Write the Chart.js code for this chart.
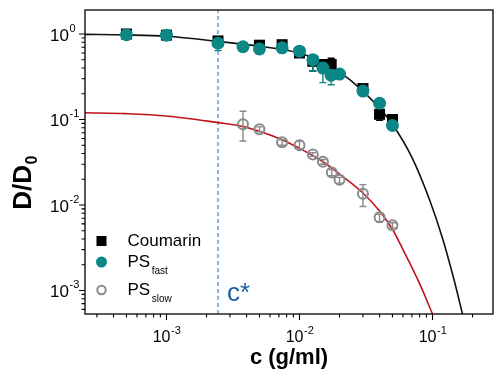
<!DOCTYPE html>
<html>
<head>
<meta charset="utf-8">
<script src="https://cdn.jsdelivr.net/npm/chart.js@4/dist/chart.umd.min.js"></script>
<style>
html, body { margin: 0; padding: 0; background: #fff; }
</style>
</head>
<body>
<canvas id="chart" width="494" height="372"></canvas>
<script>
// Axis limits (log scales)
const xMin = 2.44e-4, xMax = 0.285;
const yMin = 5.3e-4, yMax = 1.91;
const cStar = 2.44e-3;

// Tick decades (labels drawn as 10^exp)
const xTickExps = [-3, -2, -1];
const yTickExps = [0, -1, -2, -3];

// Coumarin (black squares)
const coumarinC  = [5e-4, 1e-3, 2.44e-3, 5e-3, 7.4e-3, 0.01, 0.0126, 0.015, 0.0173, 0.03, 0.04, 0.05];
const coumarinD  = [1.0, 0.97, 0.83, 0.74, 0.75, 0.6, 0.48, 0.44, 0.44, 0.23, 0.115, 0.1];
const coumarinLo = [0.93, 0.91, 0.72, 0.68, 0.69, 0.55, 0.37, 0.40, 0.37, 0.21, 0.098, 0.088];
const coumarinHi = [1.07, 1.03, 0.90, 0.80, 0.81, 0.66, 0.53, 0.49, 0.52, 0.25, 0.13, 0.112];

// PS fast (teal circles)
const fastC  = [5e-4, 1e-3, 2.44e-3, 3.76e-3, 5e-3, 7.4e-3, 0.01, 0.0126, 0.015, 0.0173, 0.02, 0.03, 0.04, 0.05];
const fastD  = [0.98, 0.97, 0.78, 0.71, 0.67, 0.69, 0.63, 0.5, 0.4, 0.33, 0.34, 0.215, 0.155, 0.085];
const fastLo = [0.93, 0.92, 0.64, 0.67, 0.63, 0.65, 0.59, 0.37, 0.27, 0.255, 0.31, 0.2, 0.14, 0.078];
const fastHi = [1.03, 1.02, 0.88, 0.75, 0.71, 0.73, 0.67, 0.56, 0.46, 0.38, 0.37, 0.23, 0.17, 0.092];

// PS slow (open grey circles)
const slowC  = [3.76e-3, 5e-3, 7.4e-3, 0.01, 0.0126, 0.015, 0.0175, 0.02, 0.03, 0.04, 0.05];
const slowD  = [0.088, 0.077, 0.054, 0.05, 0.039, 0.032, 0.024, 0.0197, 0.0135, 0.0072, 0.0058];
const slowLo = [0.056, 0.072, 0.05, 0.045, 0.037, 0.03, 0.022, 0.018, 0.0096, 0.0063, 0.0054];
const slowHi = [0.125, 0.082, 0.058, 0.056, 0.041, 0.034, 0.026, 0.021, 0.0173, 0.0078, 0.0062];

// Fit curves
const fitFastC = [2.44e-4, 5e-4, 1e-3, 2.44e-3, 5e-3, 0.01, 0.015, 0.02, 0.03, 0.04, 0.05, 0.07, 0.095, 0.12, 0.145, 0.168];
const fitFastD = [0.99, 0.975, 0.94, 0.82, 0.72, 0.6, 0.47, 0.36, 0.215, 0.135, 0.088, 0.036, 0.0115, 0.0039, 0.00134, 0.00053];
const fitSlowC = [2.44e-4, 5e-4, 1e-3, 2.44e-3, 3.76e-3, 5e-3, 7.4e-3, 0.01, 0.015, 0.02, 0.03, 0.04, 0.05, 0.06, 0.08, 0.1];
const fitSlowD = [0.12, 0.117, 0.11, 0.092, 0.083, 0.073, 0.058, 0.046, 0.032, 0.023, 0.0138, 0.0085, 0.0052, 0.003, 0.0012, 0.00053];

// Legend
const legendLabels = ['Coumarin', 'PS', 'PS'];
const legendSubs = ['', 'fast', 'slow'];

const TEAL = '#0b8785';
const GREY = '#8a8a8a';
const FONT = '"Liberation Sans", Arial, sans-serif';

const pts = (xs, ys) => xs.map((x, i) => ({ x: x, y: ys[i] }));

// error bars, drawn right before the points of their dataset
const errorBars = {
    id: 'errorBars',
    beforeDatasetDraw(chart, args) {
        const ds = chart.data.datasets[args.index];
        if (!ds.errLo) return;
        const ctx = chart.ctx, xs = chart.scales.x, ys = chart.scales.y;
        ctx.save();
        ctx.strokeStyle = ds.errColor;
        ctx.lineWidth = 1.4;
        ds.data.forEach((p, i) => {
            const px = xs.getPixelForValue(p.x);
            const y0 = ys.getPixelForValue(ds.errLo[i]);
            const y1 = ys.getPixelForValue(ds.errHi[i]);
            ctx.beginPath();
            ctx.moveTo(px, y0); ctx.lineTo(px, y1);
            ctx.moveTo(px - 3.5, y0); ctx.lineTo(px + 3.5, y0);
            ctx.moveTo(px - 3.5, y1); ctx.lineTo(px + 3.5, y1);
            ctx.stroke();
        });
        ctx.restore();
    }
};

function drawPow(ctx, exp, x, y, mode, size, supSize) {
    ctx.font = size + 'px ' + FONT;
    const wb = ctx.measureText('10').width;
    ctx.font = supSize + 'px ' + FONT;
    const sup = String(exp);
    const ws = ctx.measureText(sup).width;
    let x0 = mode === 'center' ? x - (wb + ws) / 2 : x - wb;
    ctx.textAlign = 'left';
    ctx.textBaseline = 'middle';
    ctx.font = size + 'px ' + FONT;
    ctx.fillText('10', x0, y);
    ctx.font = supSize + 'px ' + FONT;
    ctx.fillText(sup, x0 + wb + 0.5, y - size * 0.42);
}

// frame, ticks, labels, legend
const decorations = {
    id: 'decorations',
    afterDatasetsDraw(chart) {
        const ctx = chart.ctx, a = chart.chartArea;
        const xs = chart.scales.x, ys = chart.scales.y;
        ctx.save();
        ctx.strokeStyle = '#000';
        ctx.lineWidth = 1.3;
        ctx.strokeRect(a.left, a.top, a.right - a.left, a.bottom - a.top);

        ctx.lineWidth = 1.1;
        ctx.beginPath();
        for (let d = -4; d <= 0; d++) {
            for (let m = 1; m <= 9; m++) {
                const v = m * Math.pow(10, d);
                const px = xs.getPixelForValue(v);
                if (px >= a.left - 0.5 && px <= a.right + 0.5) {
                    ctx.moveTo(px, a.bottom);
                    ctx.lineTo(px, a.bottom + (m === 1 ? 6 : 3.5));
                }
                const py = ys.getPixelForValue(v);
                if (py >= a.top - 0.5 && py <= a.bottom + 0.5) {
                    ctx.moveTo(a.left, py);
                    ctx.lineTo(a.left - (m === 1 ? 6 : 3.5), py);
                }
            }
        }
        ctx.stroke();

        ctx.fillStyle = '#000';
        xTickExps.forEach(e => {
            drawPow(ctx, e, xs.getPixelForValue(Math.pow(10, e)), 338, 'center', 16, 11);
        });
        yTickExps.forEach(e => {
            drawPow(ctx, e, a.left - 16, ys.getPixelForValue(Math.pow(10, e)) + 2, 'left', 17, 11);
        });

        // axis titles
        ctx.font = 'bold 22px ' + FONT;
        ctx.textAlign = 'center';
        ctx.textBaseline = 'middle';
        ctx.fillText('c (g/ml)', (a.left + a.right) / 2, 358);

        ctx.save();
        ctx.translate(24, 183);
        ctx.rotate(-Math.PI / 2);
        ctx.font = 'bold 26px ' + FONT;
        const wD = ctx.measureText('D/D').width;
        ctx.font = 'bold 16px ' + FONT;
        const w0 = ctx.measureText('0').width;
        const sx = -(wD + w0) / 2;
        ctx.textAlign = 'left';
        ctx.font = 'bold 26px ' + FONT;
        ctx.fillText('D/D', sx, 0);
        ctx.font = 'bold 16px ' + FONT;
        ctx.fillText('0', sx + wD + 0.5, 9);
        ctx.restore();

        // c* label
        ctx.fillStyle = '#1d60a6';
        ctx.font = '26px ' + FONT;
        ctx.textAlign = 'left';
        ctx.textBaseline = 'alphabetic';
        ctx.fillText('c*', xs.getPixelForValue(cStar) + 9, 301);

        // legend
        const ly = [241, 262, 290];
        const mx = 101.5, tx = 127.5;
        ctx.fillStyle = '#000';
        ctx.fillRect(mx - 5, ly[0] - 5, 10, 10);
        ctx.fillStyle = TEAL;
        ctx.beginPath(); ctx.arc(mx, ly[1], 5.5, 0, Math.PI * 2); ctx.fill();
        ctx.strokeStyle = GREY; ctx.lineWidth = 2;
        ctx.beginPath(); ctx.arc(mx, ly[2], 4.2, 0, Math.PI * 2); ctx.stroke();

        ctx.fillStyle = '#000';
        ctx.textBaseline = 'middle';
        legendLabels.forEach((t, i) => {
            ctx.font = '17px ' + FONT;
            ctx.fillText(t, tx, ly[i]);
            if (legendSubs[i]) {
                const w = ctx.measureText(t).width;
                ctx.font = '10px ' + FONT;
                ctx.fillText(legendSubs[i], tx + w + 1.5, ly[i] + 9);
            }
        });
        ctx.restore();
    }
};

new Chart(document.getElementById('chart'), {
    type: 'scatter',
    data: {
        datasets: [
            {
                label: 'PS slow',
                data: pts(slowC, slowD),
                errLo: slowLo, errHi: slowHi, errColor: GREY,
                pointStyle: 'circle',
                pointRadius: 5,
                pointBorderWidth: 2,
                pointBorderColor: GREY,
                pointBackgroundColor: 'rgba(255,255,255,0)',
                order: 0
            },
            {
                label: 'PS fast',
                data: pts(fastC, fastD),
                errLo: fastLo, errHi: fastHi, errColor: TEAL,
                pointStyle: 'circle',
                pointRadius: 6.5,
                pointBorderWidth: 0,
                pointBackgroundColor: TEAL,
                order: 1
            },
            {
                label: 'Coumarin',
                data: pts(coumarinC, coumarinD),
                errLo: coumarinLo, errHi: coumarinHi, errColor: '#000',
                pointStyle: 'rect',
                pointRadius: 7.8,
                pointBorderWidth: 0,
                pointBackgroundColor: '#000',
                order: 2
            },
            {
                label: 'fit fast',
                data: pts(fitFastC, fitFastD),
                showLine: true,
                borderColor: '#111',
                borderWidth: 1.6,
                pointRadius: 0,
                cubicInterpolationMode: 'monotone',
                order: 3
            },
            {
                label: 'fit slow',
                data: pts(fitSlowC, fitSlowD),
                showLine: true,
                borderColor: '#c0141c',
                borderWidth: 1.6,
                pointRadius: 0,
                cubicInterpolationMode: 'monotone',
                order: 4
            },
            {
                label: 'c*',
                data: [{ x: cStar, y: yMin }, { x: cStar, y: yMax }],
                showLine: true,
                borderColor: '#4f8fd0',
                borderWidth: 1.3,
                borderDash: [4, 3],
                pointRadius: 0,
                order: 5
            }
        ]
    },
    options: {
        responsive: false,
        animation: false,
        devicePixelRatio: 1,
        layout: { autoPadding: false, padding: { left: 85, top: 10, right: 1, bottom: 58 } },
        plugins: {
            legend: { display: false },
            tooltip: { enabled: false }
        },
        scales: {
            x: { type: 'logarithmic', min: xMin, max: xMax, display: false },
            y: { type: 'logarithmic', min: yMin, max: yMax, display: false }
        }
    },
    plugins: [errorBars, decorations]
});
</script>
</body>
</html>
